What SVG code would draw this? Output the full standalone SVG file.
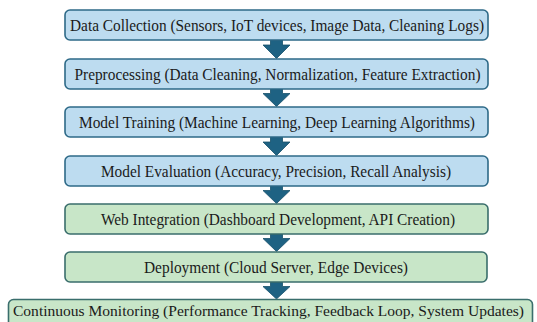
<svg xmlns="http://www.w3.org/2000/svg" width="537" height="322" viewBox="0 0 537 322">
<style>
.bg{fill:#ffffff}
.blue{fill:#bddcf0;stroke:#2e6a88;stroke-width:1.6}
.green{fill:#c8e6c8;stroke:#3a6e6c;stroke-width:1.6}
.lbl{font-family:"Liberation Serif","Times New Roman",serif;font-size:16px;fill:#1a1a1a;text-anchor:middle}
.arr{fill:#1e6283;stroke:#17506b;stroke-width:0.8}
</style>
<rect class="bg" x="0" y="0" width="537" height="322"/>
<g id="connectors">
<path class="arr" d="M270.5,40 h12 v5 h7.5 l-13.5,13.5 l-13.5,-13.5 h7.5 z"/>
<path class="arr" d="M270.5,89 h12 v4.5 h7.5 l-13.5,13 l-13.5,-13 h7.5 z"/>
<path class="arr" d="M270.5,137 h12 v5 h7.5 l-13.5,13.5 l-13.5,-13.5 h7.5 z"/>
<path class="arr" d="M270.5,186 h12 v4.5 h7.5 l-13.5,13 l-13.5,-13 h7.5 z"/>
<path class="arr" d="M270.5,234 h12 v4.5 h7.5 l-13.5,13 l-13.5,-13 h7.5 z"/>
<path class="arr" d="M270.5,282 h12 v4.5 h7.5 l-13.5,12.5 l-13.5,-12.5 h7.5 z"/>
</g>
<g id="n1">
<rect class="blue" x="65" y="10" width="423" height="30" rx="5"/>
<text class="lbl" x="277" y="30.5" textLength="414" lengthAdjust="spacingAndGlyphs">Data Collection (Sensors, IoT devices, Image Data, Cleaning Logs)</text>
</g>
<g id="n2">
<rect class="blue" x="65" y="59" width="423" height="30" rx="5"/>
<text class="lbl" x="277.5" y="79.5" textLength="406" lengthAdjust="spacingAndGlyphs">Preprocessing (Data Cleaning, Normalization, Feature Extraction)</text>
</g>
<g id="n3">
<rect class="blue" x="65" y="107" width="423" height="30" rx="5"/>
<text class="lbl" x="277" y="127.5" textLength="396" lengthAdjust="spacingAndGlyphs">Model Training (Machine Learning, Deep Learning Algorithms)</text>
</g>
<g id="n4">
<rect class="blue" x="65" y="156" width="423" height="30" rx="5"/>
<text class="lbl" x="276" y="176.5" textLength="350" lengthAdjust="spacingAndGlyphs">Model Evaluation (Accuracy, Precision, Recall Analysis)</text>
</g>
<g id="n5">
<rect class="green" x="65" y="204" width="423" height="30" rx="5"/>
<text class="lbl" x="278" y="224.5" textLength="354" lengthAdjust="spacingAndGlyphs">Web Integration (Dashboard Development, API Creation)</text>
</g>
<g id="n6">
<rect class="green" x="65" y="252" width="422" height="30" rx="5"/>
<text class="lbl" x="276" y="272.5" textLength="264" lengthAdjust="spacingAndGlyphs">Deployment (Cloud Server, Edge Devices)</text>
</g>
<g id="n7">
<rect class="green" x="8.5" y="299.5" width="524" height="32" rx="5"/>
<text class="lbl" x="268.5" y="315.5" style="font-size:15px" textLength="511" lengthAdjust="spacingAndGlyphs">Continuous Monitoring (Performance Tracking, Feedback Loop, System Updates)</text>
</g>
</svg>
